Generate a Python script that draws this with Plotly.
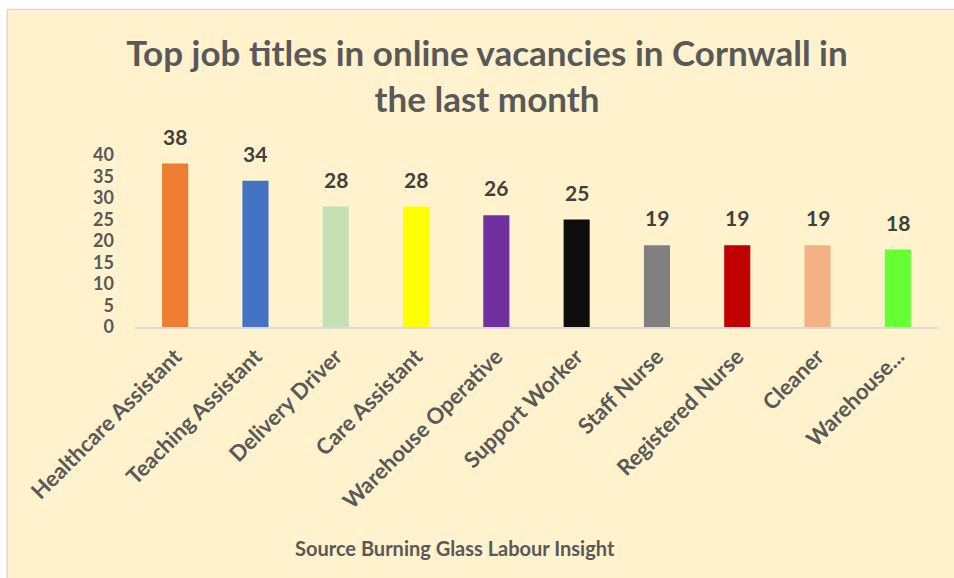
import plotly.graph_objects as go

categories = ["Healthcare Assistant", "Teaching Assistant", "Delivery Driver", "Care Assistant",
              "Warehouse Operative", "Support Worker", "Staff Nurse", "Registered Nurse",
              "Cleaner", "Warehouse..."]
values = [38, 34, 28, 28, 26, 25, 19, 19, 19, 18]
bar_colors = ["#ED7D31", "#4472C4", "#C5E0B4", "#FFFF00", "#7030A0",
              "#0D0D0D", "#808080", "#C00000", "#F4B183", "#66FF33"]
y_ticks = [0, 5, 10, 15, 20, 25, 30, 35, 40]

W, H = 954, 578
FONT = "Lato"
L, R = 134.5, 938.5
Y0, Y40 = 327, 155
PW, PH = R - L, Y0 - Y40

fig = go.Figure()
fig.add_trace(go.Bar(x=categories, y=values, marker=dict(color=bar_colors, line=dict(width=0)),
                     width=0.325, hoverinfo="x+y"))

for c, v in zip(categories, values):
    fig.add_annotation(x=c, y=v, text=str(v), showarrow=False, yanchor="bottom", yshift=13,
                       font=dict(family=FONT, size=21, color="#404040", weight="bold"))

fig.add_annotation(xref="paper", yref="paper", x=(455 - L) / PW, y=-(548 - Y0) / PH,
                   xanchor="center", yanchor="middle",
                   text="Source Burning Glass Labour Insight", showarrow=False,
                   font=dict(family=FONT, size=20, color="#595959", weight="bold"))

# white outer strip (left and top) with the panel's grey border
fx = lambda px: (px - L) / PW
fy = lambda py: (Y0 - py) / PH
fig.add_shape(type="rect", xref="paper", yref="paper", layer="below",
              x0=fx(-5), x1=fx(6), y0=fy(H + 5), y1=fy(-5),
              fillcolor="white", line=dict(width=0))
fig.add_shape(type="rect", xref="paper", yref="paper", layer="below",
              x0=fx(-5), x1=fx(W + 5), y0=fy(9), y1=fy(-5),
              fillcolor="white", line=dict(width=0))
fig.add_shape(type="line", xref="paper", yref="paper", layer="below",
              x0=fx(6.5), x1=fx(6.5), y0=fy(H + 5), y1=fy(9.5),
              line=dict(color="#D9D9D9", width=1.5))
fig.add_shape(type="line", xref="paper", yref="paper", layer="below",
              x0=fx(6.5), x1=fx(W + 5), y0=fy(9.5), y1=fy(9.5),
              line=dict(color="#D9D9D9", width=1.5))

fig.update_layout(
    width=W, height=H,
    paper_bgcolor="#FFF2CC", plot_bgcolor="rgba(0,0,0,0)",
    margin=dict(l=L, r=W - R, t=Y40, b=H - Y0, autoexpand=False),
    showlegend=False, bargap=0.675,
    title=dict(text="Top job titles in online vacancies in Cornwall in<br>the last month",
               x=487 / W, xanchor="center", y=1 - 66 / H, yanchor="middle",
               font=dict(family=FONT, size=35, color="#595959", weight="bold")),
    xaxis=dict(showgrid=False, showline=True, linecolor="#D9D9D9", linewidth=2, ticks="",
               tickangle=-45, ticklabelstandoff=6,
               tickfont=dict(family=FONT, size=22, color="#595959", weight="bold"),
               range=[-0.5, 9.5]),
    yaxis=dict(range=[0, 40], tickvals=y_ticks, showgrid=False, zeroline=False, showline=False,
               ticks="", ticklabelstandoff=20,
               tickfont=dict(family=FONT, size=18, color="#595959", weight="bold")),
)

fig.write_html("out.html", config={"displayModeBar": False},
               post_script="document.body.style.margin='0px';document.body.style.overflow='hidden';")
